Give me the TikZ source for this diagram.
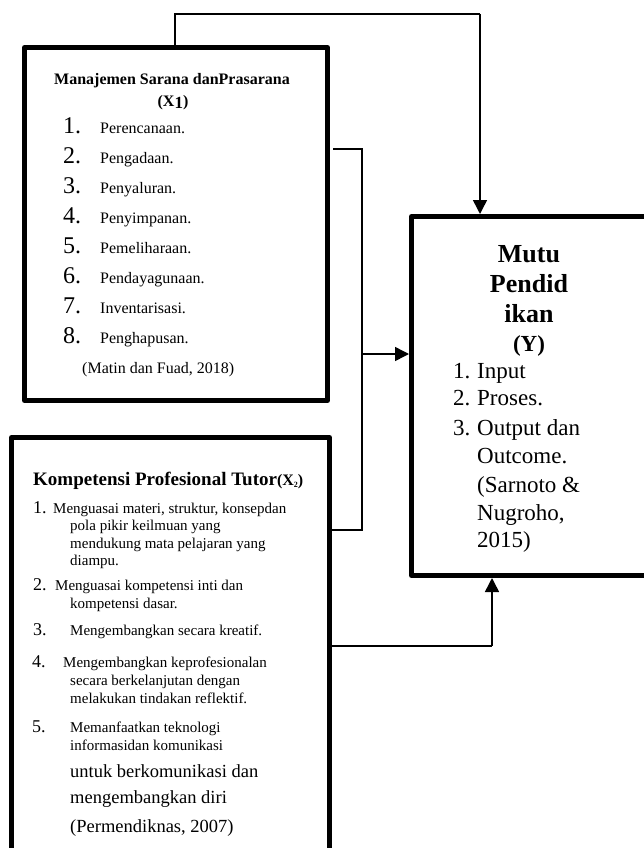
\documentclass[tikz,border=0pt]{standalone}
\usepackage{fontspec}
\setmainfont{Liberation Serif}
\usetikzlibrary{arrows.meta}
\begin{document}
\begin{tikzpicture}[x=1pt,y=-1pt,
  box/.style={draw, line width=5pt, line join=round, inner sep=0pt, anchor=north west},
  conn/.style={line width=1.5pt},
  arr/.style={conn, -{Triangle[length=14pt,width=14pt]}},
  txt/.style={anchor=base west, inner sep=0pt},
  ctxt/.style={anchor=base, inner sep=0pt},
  fa/.style={font=\fontsize{16}{16}\selectfont},
  fab/.style={font=\bfseries\fontsize{16}{16}\selectfont},
  bignum/.style={font=\fontsize{24}{24}\selectfont},
  fb/.style={font=\fontsize{15}{15}\selectfont},
  fbl/.style={font=\fontsize{18.5}{18.5}\selectfont},
  numb/.style={font=\fontsize{18}{18}\selectfont},
  fyt/.style={font=\bfseries\fontsize{26}{26}\selectfont},
  fy/.style={font=\fontsize{23}{23}\selectfont}
]
\useasboundingbox (0,0) rectangle (644,848);

% boxes
\node[box, minimum width=303pt, minimum height=353pt] (x1) at (22,45) {};
\node[box, minimum width=318pt, minimum height=500pt] (x2) at (9,435) {};
\node[box, minimum width=300pt, minimum height=359pt] (y) at (409,214) {};

% X1 texts
\node[ctxt, fab] (x1t) at (172,85) {Manajemen Sarana danPrasarana};
\node[ctxt, fab] (x1s) at (173,107) {(X\raisebox{-1.5pt}{\fontsize{17}{17}\selectfont 1})};
\node[txt, bignum] (n1) at (63,133) {1.};
\node[txt, fa] (i1) at (100,133) {Perencanaan.};
\node[txt, bignum] (n2) at (63,163) {2.};
\node[txt, fa] (i2) at (100,163) {Pengadaan.};
\node[txt, bignum] (n3) at (63,193) {3.};
\node[txt, fa] (i3) at (100,193) {Penyaluran.};
\node[txt, bignum] (n4) at (63,223) {4.};
\node[txt, fa] (i4) at (100,223) {Penyimpanan.};
\node[txt, bignum] (n5) at (63,253) {5.};
\node[txt, fa] (i5) at (100,253) {Pemeliharaan.};
\node[txt, bignum] (n6) at (63,283) {6.};
\node[txt, fa] (i6) at (100,283) {Pendayagunaan.};
\node[txt, bignum] (n7) at (63,313) {7.};
\node[txt, fa] (i7) at (100,313) {Inventarisasi.};
\node[txt, bignum] (n8) at (63,343) {8.};
\node[txt, fa] (i8) at (100,343) {Penghapusan.};
\node[txt, fa] (x1c) at (82,373) {(Matin dan Fuad, 2018)};

% X2 texts
\node[txt, font=\bfseries\fontsize{19}{19}\selectfont] (x2t) at (33,485) {Kompetensi Profesional Tutor\fontsize{16}{16}\selectfont(X\raisebox{-2pt}{\fontsize{8}{8}\selectfont 2})};
\node[txt, numb] (m1) at (33,513) {1.};
\node[txt, fb] (k1a) at (53,513) {Menguasai materi, struktur, konsepdan};
\node[txt, fb] (k1b) at (70,530.5) {pola pikir keilmuan yang};
\node[txt, fb] (k1c) at (70,548) {mendukung mata pelajaran yang};
\node[txt, fb] (k1d) at (70,565.5) {diampu.};
\node[txt, numb] (m2) at (33,590) {2.};
\node[txt, fb] (k2a) at (55,590) {Menguasai kompetensi inti dan};
\node[txt, fb] (k2b) at (70,608) {kompetensi dasar.};
\node[txt, numb] (m3) at (33,635) {3.};
\node[txt, fb] (k3a) at (70,635) {Mengembangkan secara kreatif.};
\node[txt, numb] (m4) at (32,667) {4.};
\node[txt, fb] (k4a) at (63,667) {Mengembangkan keprofesionalan};
\node[txt, fb] (k4b) at (70,685) {secara berkelanjutan dengan};
\node[txt, fb] (k4c) at (70,703) {melakukan tindakan reflektif.};
\node[txt, numb] (m5) at (32,732) {5.};
\node[txt, fb] (k5a) at (70,732) {Memanfaatkan teknologi};
\node[txt, fb] (k5b) at (70,750) {informasidan komunikasi};
\node[txt, fbl] (k5c) at (70,777) {untuk berkomunikasi dan};
\node[txt, fbl] (k5d) at (70,803) {mengembangkan diri};
\node[txt, fbl] (k5e) at (70,832) {(Permendiknas, 2007)};

% Y texts
\node[ctxt, fyt] (yt1) at (529,262) {Mutu};
\node[ctxt, fyt] (yt2) at (529,292) {Pendid};
\node[ctxt, fyt] (yt3) at (529,322) {ikan};
\node[ctxt, font=\bfseries\fontsize{23}{23}\selectfont] (yt4) at (529,351) {(Y)};
\node[txt, fy] (yn1) at (453,378) {1.};
\node[txt, fy] (yi1) at (477,378) {Input};
\node[txt, fy] (yn2) at (453,405) {2.};
\node[txt, fy] (yi2) at (477,405) {Proses.};
\node[txt, fy] (yn3) at (453,435) {3.};
\node[txt, fy] (yi3) at (477,435) {Output dan};
\node[txt, fy] (yi4) at (477,463) {Outcome.};
\node[txt, fy] (yi5) at (477,492) {(Sarnoto \&};
\node[txt, fy] (yi6) at (477,520) {Nugroho,};
\node[txt, fy] (yi7) at (477,547) {2015)};

% connectors
\coordinate (a1) at (175,14);
\coordinate (a2) at (480,14);
\draw[conn] (a1 |- x1.north) -- (a1) -- (a2);
\draw[arr] (a2) -- (a2 |- y.north);

\coordinate (b1) at (333,149);
\coordinate (b2) at (362,149);
\coordinate (b3) at (362,530);
\coordinate (b4) at (362,354);
\draw[conn] (b1) -- (b2) -- (b3) -- (b3 -| x2.east);
\draw[arr] (b4) -- (b4 -| y.west);

\coordinate (c1) at (492,646);
\draw[conn] (c1 -| x2.east) -- (c1);
\draw[arr] (c1) -- (c1 |- y.south);
\end{tikzpicture}
\end{document}
